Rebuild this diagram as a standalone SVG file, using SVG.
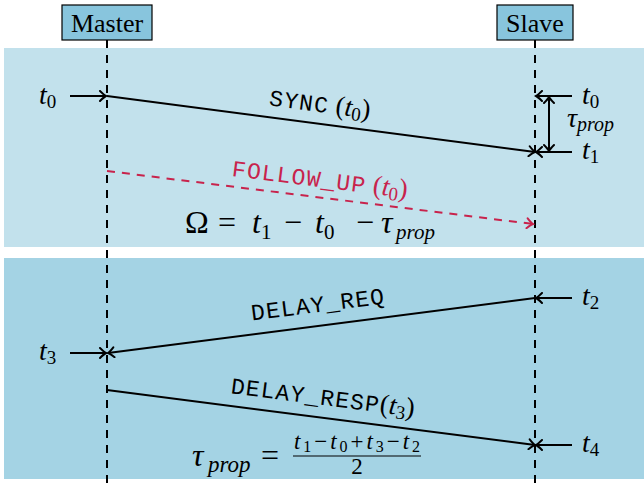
<svg xmlns="http://www.w3.org/2000/svg" width="644" height="483" viewBox="0 0 644 483">
  <style>
    .band1 { fill: #c2e1ec; }
    .band2 { fill: #a4d3e4; }
    .box { fill: #88c5dd; stroke: #000; stroke-width: 1.2; }
    .title { font-family: "Liberation Serif", serif; font-size: 26px; fill: #000; }
    .life { stroke: #000; stroke-width: 2; stroke-dasharray: 8 7; fill: none; }
    .msg { stroke: #000; stroke-width: 2; fill: none; }
    .fu { stroke: #c8234c; stroke-width: 2; stroke-dasharray: 8 7; fill: none; }
    .tt { font-family: "Liberation Mono", monospace; font-size: 23px; letter-spacing: 1.2px; }
    .m { font-family: "Liberation Serif", serif; font-style: italic; }
    .up { font-family: "Liberation Serif", serif; font-style: normal; }
    .lbl { font-family: "Liberation Serif", serif; font-style: italic; font-size: 28px; fill: #000; }
    .sub { font-style: normal; font-size: 19px; }
  </style>
  <defs>
    <marker id="to" viewBox="-8 -6 10 12" refX="0" refY="0" markerWidth="10" markerHeight="12" markerUnits="userSpaceOnUse" orient="auto-start-reverse">
      <path d="M-6,-5 Q-2,-1 0,0 Q-2,1 -6,5" fill="none" stroke="#000" stroke-width="2" stroke-linecap="round"/>
    </marker>
    <marker id="toRed" viewBox="-8 -6 10 12" refX="0" refY="0" markerWidth="10" markerHeight="12" markerUnits="userSpaceOnUse" orient="auto">
      <path d="M-6,-5 Q-2,-1 0,0 Q-2,1 -6,5" fill="none" stroke="#c8234c" stroke-width="2" stroke-linecap="round"/>
    </marker>
  </defs>

  <!-- phase backgrounds -->
  <rect class="band1" x="4" y="48" width="640" height="199"/>
  <rect class="band2" x="4" y="258" width="640" height="221"/>

  <!-- participants -->
  <g id="master">
    <rect class="box" x="62" y="5" width="90" height="35"/>
    <text class="title" x="107" y="32" text-anchor="middle">Master</text>
  </g>
  <g id="slave">
    <rect class="box" x="497" y="5" width="76" height="35"/>
    <text class="title" x="535" y="32" text-anchor="middle">Slave</text>
  </g>

  <g id="connectors">
    <!-- lifelines -->
    <line class="life" x1="107" y1="40" x2="107" y2="483"/>
    <line class="life" x1="535" y1="40" x2="535" y2="483"/>

    <!-- sync phase -->
    <line class="msg" x1="70" y1="96" x2="106" y2="96" marker-end="url(#to)"/>
    <line class="msg" x1="107" y1="96" x2="535" y2="152" marker-end="url(#to)"/>
    <line class="msg" x1="572" y1="96" x2="536" y2="96" marker-end="url(#to)"/>
    <line class="msg" x1="572" y1="152" x2="536" y2="152" marker-end="url(#to)"/>
    <line class="msg" x1="549" y1="97" x2="549" y2="151" marker-start="url(#to)" marker-end="url(#to)"/>
    <line class="fu" x1="107" y1="171" x2="533" y2="224" marker-end="url(#toRed)"/>

    <!-- delay phase -->
    <line class="msg" x1="572" y1="298" x2="536" y2="298" marker-end="url(#to)"/>
    <line class="msg" x1="535" y1="298" x2="108" y2="353" marker-end="url(#to)"/>
    <line class="msg" x1="70" y1="353" x2="106" y2="353" marker-end="url(#to)"/>
    <line class="msg" x1="107" y1="390" x2="535" y2="445" marker-end="url(#to)"/>
    <line class="msg" x1="572" y1="445" x2="536" y2="445" marker-end="url(#to)"/>
  </g>

  <!-- message labels -->
  <g id="sync-label" transform="translate(320,104) rotate(7.44)">
    <text y="8" text-anchor="middle" fill="#000"><tspan class="tt">SYNC</tspan><tspan class="up" font-size="27"> (</tspan><tspan class="m" font-size="27">t</tspan><tspan class="up" font-size="19" dy="4">0</tspan><tspan class="up" font-size="27" dy="-4">)</tspan></text>
  </g>
  <g id="followup-label" transform="translate(320,179) rotate(7.17)">
    <text y="8" text-anchor="middle" fill="#c8234c"><tspan class="tt">FOLLOW_UP</tspan><tspan class="up" font-size="27"> (</tspan><tspan class="m" font-size="27">t</tspan><tspan class="up" font-size="19" dy="4">0</tspan><tspan class="up" font-size="27" dy="-4">)</tspan></text>
  </g>
  <g id="delayreq-label" transform="translate(318,304) rotate(-7.3)">
    <text y="8" text-anchor="middle" fill="#000"><tspan class="tt">DELAY_REQ</tspan></text>
  </g>
  <g id="delayresp-label" transform="translate(323,397) rotate(7.3)">
    <text y="8" text-anchor="middle" fill="#000"><tspan class="tt">DELAY_RESP</tspan><tspan class="up" font-size="27">(</tspan><tspan class="m" font-size="27">t</tspan><tspan class="up" font-size="19" dy="4">3</tspan><tspan class="up" font-size="27" dy="-4">)</tspan></text>
  </g>

  <!-- timestamps -->
  <g id="timestamps">
    <text class="lbl" x="39" y="104">t<tspan class="sub" dy="4">0</tspan></text>
    <text class="lbl" x="582" y="104">t<tspan class="sub" dy="4">0</tspan></text>
    <text class="lbl" x="567" y="127" font-size="26">τ<tspan font-size="20" dy="4">prop</tspan></text>
    <text class="lbl" x="582" y="159">t<tspan class="sub" dy="4">1</tspan></text>
    <text class="lbl" x="582" y="305">t<tspan class="sub" dy="4">2</tspan></text>
    <text class="lbl" x="39" y="360">t<tspan class="sub" dy="4">3</tspan></text>
    <text class="lbl" x="582" y="452">t<tspan class="sub" dy="4">4</tspan></text>
  </g>

  <!-- offset formula -->
  <g id="offset-formula" font-size="32" fill="#000">
    <text class="up" x="185" y="233">Ω</text>
    <text class="up" x="218" y="233">=</text>
    <text class="m" x="252" y="233">t</text>
    <text class="up" x="261" y="239" font-size="21">1</text>
    <text class="up" x="284" y="233">−</text>
    <text class="m" x="315" y="233">t</text>
    <text class="up" x="324" y="239" font-size="21">0</text>
    <text class="up" x="356" y="233">−</text>
    <text class="m" x="381" y="233">τ</text>
    <text class="m" x="396" y="239" font-size="21">prop</text>
  </g>

  <!-- propagation delay formula -->
  <g id="delay-formula" fill="#000">
    <text class="m" x="192" y="466" font-size="32">τ</text>
    <text class="m" x="208" y="472" font-size="23">prop</text>
    <text class="up" x="261" y="466" font-size="32">=</text>
    <text x="294" y="449" font-size="23" textLength="126" lengthAdjust="spacing"><tspan class="m">t</tspan><tspan class="up" font-size="16" dy="3">1</tspan><tspan class="up" dy="-3">−</tspan><tspan class="m">t</tspan><tspan class="up" font-size="16" dy="3">0</tspan><tspan class="up" dy="-3">+</tspan><tspan class="m">t</tspan><tspan class="up" font-size="16" dy="3">3</tspan><tspan class="up" dy="-3">−</tspan><tspan class="m">t</tspan><tspan class="up" font-size="16" dy="3">2</tspan></text>
    <line x1="293" y1="456" x2="421" y2="456" stroke="#000" stroke-width="1.2"/>
    <text class="up" x="357" y="474" text-anchor="middle" font-size="23">2</text>
  </g>
</svg>
